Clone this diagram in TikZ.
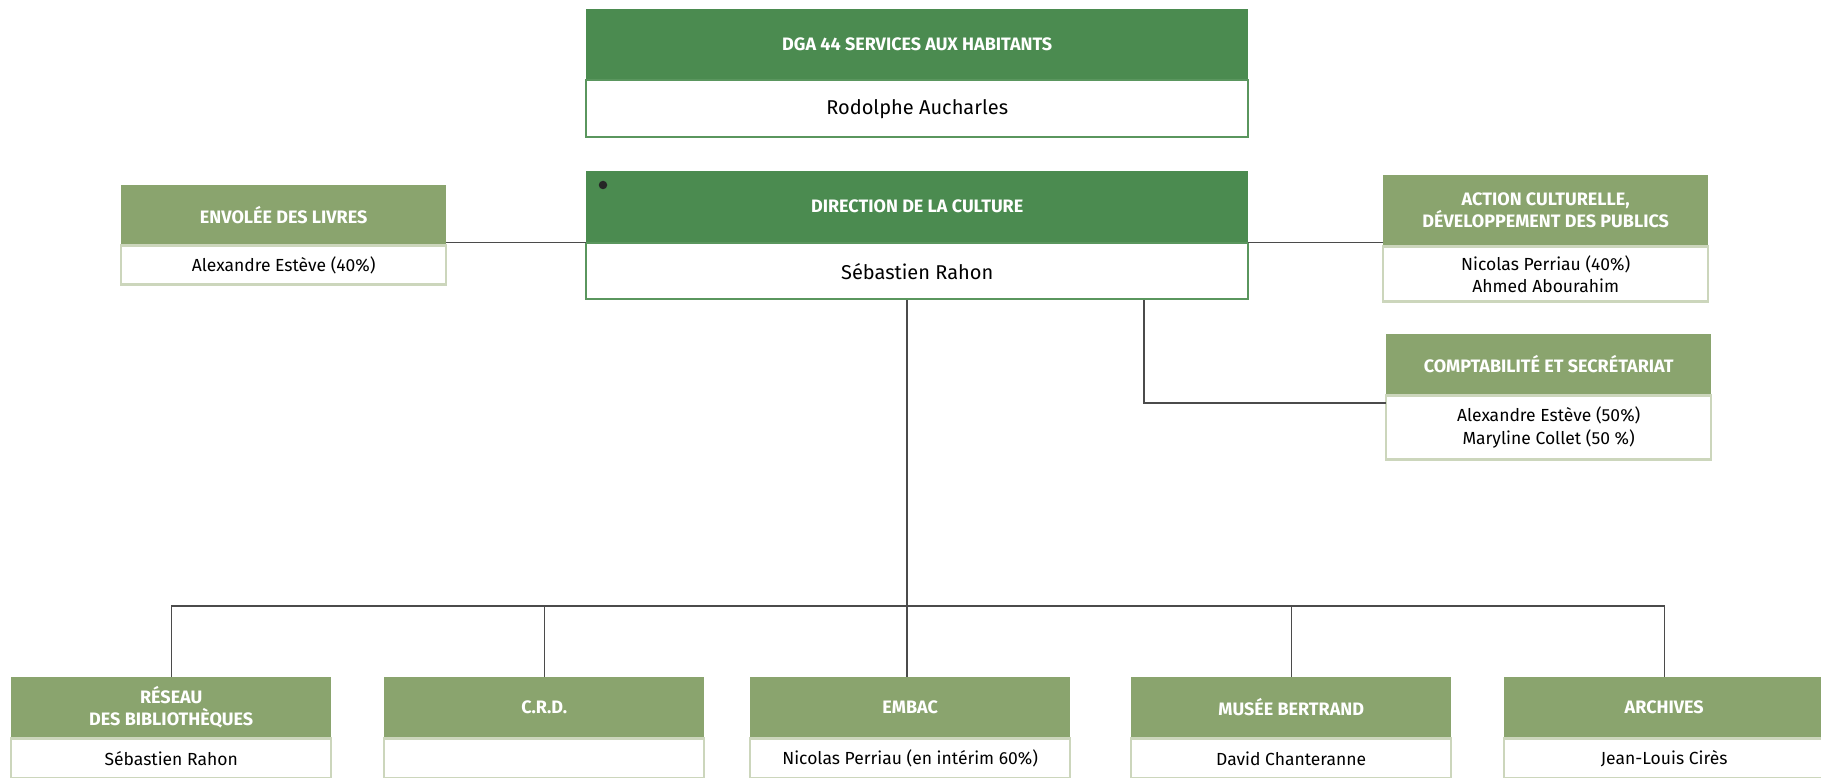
\documentclass[tikz,border=0pt]{standalone}
\usepackage{fontspec}
\setmainfont{Fira Sans}
\usetikzlibrary{positioning}
\definecolor{dkgreen}{RGB}{75,139,80}
\definecolor{dkborder}{RGB}{90,150,94}
\definecolor{ltgreen}{RGB}{138,164,110}
\definecolor{ltborder}{RGB}{204,214,188}
\definecolor{linkgray}{RGB}{75,75,75}
\tikzset{
  hdrdark/.style={rectangle, fill=dkgreen, text=white, inner sep=0pt, anchor=north west, align=center, font=\fontsize{18}{22}\selectfont\bfseries},
  bodydark/.style={rectangle, fill=white, draw=dkborder, line width=2pt, inner sep=0pt, anchor=north, align=center, font=\fontsize{20}{24}\selectfont},
  hdrlight/.style={rectangle, fill=ltgreen, text=white, inner sep=0pt, anchor=north west, align=center, font=\fontsize{18}{21.5}\selectfont\bfseries},
  bodylight/.style={rectangle, fill=white, draw=ltborder, line width=2.5pt, inner sep=0pt, anchor=north, align=center, font=\fontsize{17.5}{22.5}\selectfont},
  link/.style={draw=linkgray, line width=1.2pt}
}
\begin{document}
\begin{tikzpicture}[x=1pt,y=1pt]
\useasboundingbox[fill=white] (0,0) rectangle (1821,-778);
\coordinate (bus) at (0,-606);
\coordinate (vx) at (907,0);
\coordinate (cx) at (1144,-298);
\coordinate (cjoin) at (1386,-403);
% top boxes
\node[hdrdark, minimum width=662pt, minimum height=70pt] (dgaH) at (586,-9) {DGA 44 SERVICES AUX HABITANTS};
\node[bodydark, minimum width=662pt, minimum height=57pt] (dgaB) at (dgaH.south) {Rodolphe Aucharles};
\node[hdrdark, minimum width=662pt, minimum height=71pt] (dirH) at (586,-171) {DIRECTION DE LA CULTURE};
\node[bodydark, minimum width=662pt, minimum height=56pt] (dirB) at (dirH.south) {Sébastien Rahon};
\node[circle, fill=black!85, inner sep=0pt, minimum size=8.5pt] (dot) at (603,-185) {};
% side boxes
\node[hdrlight, minimum width=325pt, minimum height=59pt] (envH) at (121,-185) {ENVOLÉE DES LIVRES};
\node[bodylight, minimum width=325pt, minimum height=39pt] (envB) at (envH.south) {Alexandre Estève (40\%)};
\node[hdrlight, minimum width=325pt, minimum height=70pt] (actH) at (1383,-175) {ACTION CULTURELLE,\\DÉVELOPPEMENT DES PUBLICS};
\node[bodylight, minimum width=325pt, minimum height=55pt] (actB) at (actH.south) {Nicolas Perriau (40\%)\\Ahmed Abourahim};
\node[hdrlight, minimum width=325pt, minimum height=60pt] (cptH) at (1386,-334) {COMPTABILITÉ ET SECRÉTARIAT};
\node[bodylight, minimum width=325pt, minimum height=64pt] (cptB) at (cptH.south) {Alexandre Estève (50\%)\\Maryline Collet (50 \%)};
% bottom boxes
\node[hdrlight, minimum width=320pt, minimum height=60pt] (resH) at (11,-677) {RÉSEAU\\DES BIBLIOTHÈQUES};
\node[bodylight, minimum width=320pt, minimum height=40pt] (resB) at (resH.south) {Sébastien Rahon};
\node[hdrlight, minimum width=320pt, minimum height=60pt] (crdH) at (384,-677) {C.R.D.};
\node[bodylight, minimum width=320pt, minimum height=40pt] (crdB) at (crdH.south) {};
\node[hdrlight, minimum width=320pt, minimum height=60pt] (embH) at (750,-677) {EMBAC};
\node[bodylight, minimum width=320pt, minimum height=40pt] (embB) at (embH.south) {Nicolas Perriau (en intérim 60\%)};
\node[hdrlight, minimum width=320pt, minimum height=60pt] (musH) at (1131,-677) {MUSÉE BERTRAND};
\node[bodylight, minimum width=320pt, minimum height=40pt] (musB) at (musH.south) {David Chanteranne};
\node[hdrlight, minimum width=320pt, minimum height=60pt] (arcH) at (1504,-677) {ARCHIVES};
\node[bodylight, minimum width=320pt, minimum height=40pt] (arcB) at (arcH.south) {Jean-Louis Cirès};
% connectors
\draw[link] (dirH.south west) -- (dirH.south west -| envH.east);
\draw[link] (dirH.south east) -- (dirH.south east -| actH.west);
\draw[link] (dirB.south -| cx) |- (cjoin);
\draw[link] (dirB.south -| vx) -- (embH.north -| vx);
\draw[link] (resH.north) -- (resH.north |- bus) -- (arcH.north |- bus) -- (arcH.north);
\draw[link] (crdH.north) -- (crdH.north |- bus);
\draw[link] (musH.north) -- (musH.north |- bus);
\end{tikzpicture}
\end{document}
